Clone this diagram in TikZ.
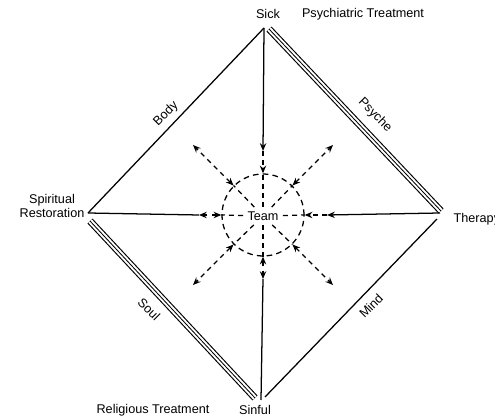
\documentclass[tikz,border=0pt]{standalone}
\usepackage{fontspec}
\setmainfont{Liberation Sans}
\usetikzlibrary{arrows.meta,calc}
\tikzset{
    care diagram/.style = {x=0.025cm, y=-0.025cm,
                           >={Stealth[length=5.5pt,width=4.5pt]},
                           font=\fontsize{9}{10}\selectfont},
    edge/.style         = {line width=0.9pt},
    triple edge/.style  = {line width=0.6pt,
                           preaction={draw, line width=5pt},
                           preaction={draw=white, line width=3.4pt}},
    ring/.style         = {draw, circle, line width=0.9pt,
                           dash pattern=on 4pt off 3pt,
                           minimum size=2.05cm, inner sep=0pt},
    spoke/.style        = {line width=0.9pt, dash pattern=on 3.5pt off 3pt},
    lbl/.style          = {inner sep=1pt}
}
\begin{document}
\begin{tikzpicture}[care diagram]
\useasboundingbox (0,0) rectangle (495,419);

% ================= Corners of the square =================
\coordinate (sick)    at (264,28);
\coordinate (restore) at (88,213);
\coordinate (therapy) at (440,213);
\coordinate (sinful)  at (261,400);

% ================= Team in the centre =================
\node[ring] (ring) at (263,215) {};
\node[lbl, inner sep=3pt] (team) at (263,216) {Team};

% outer ends of the spokes
\foreach \a in {45,135,225,315}
  \coordinate (out\a) at ($(ring.center)+(\a:2.475cm)$);
\foreach \a in {0,90,180,270}
  \coordinate (out\a) at ($(ring.center)+(\a:1.6cm)$);

% ================= Sides =================
\draw[edge] (restore) -- (sick);
\draw[edge] ($(sinful)+(4,-3)$) -- ($(therapy)+(-3,6)$);
\draw[triple edge] ($(sick)+(5,1)$) -- ($(therapy)+(1,-2)$);
\draw[triple edge] ($(restore)+(2,8)$) -- ($(sinful)+(-6,-2)$);

% ================= Spokes =================
\draw[edge, ->] (sick) -- (out90);
\draw[edge, ->] (therapy) -- (out0);
\draw[edge] (restore) -- (out180);
\draw[edge] (sinful) -- (out270);
\draw[spoke, ->] (out90) -- (ring.90);
\draw[spoke, ->] (out0) -- (ring.0);
\foreach \a in {45,135,180,225,270,315}
  \draw[spoke, <->] (ring.\a) -- (out\a);
\foreach \a in {0,45,...,315}
  \draw[spoke] (team) -- (ring.\a);

% ================= Labels =================
\node[lbl] (sicklbl) at (268,14) {Sick};
\node[lbl] (psychtreat) at (363,14) {Psychiatric Treatment};
\node[lbl, align=center, font=\fontsize{9}{9.5}\selectfont]
     (restorelbl) at (52,206) {Spiritual\\Restoration};
\node[lbl, anchor=west] (therapylbl) at (452,219) {Therapy};
\node[lbl] (religtreat) at (153,410) {Religious Treatment};
\node[lbl] (sinfullbl) at (255,410) {Sinful};
\node[lbl, rotate=45] (bodylbl) at (166,114) {Body};
\node[lbl, rotate=-45] (psychelbl) at (375,115) {Psyche};
\node[lbl, rotate=-45] (soullbl) at (149,309) {Soul};
\node[lbl, rotate=45] (mindlbl) at (371,306) {Mind};

\end{tikzpicture}
\end{document}
